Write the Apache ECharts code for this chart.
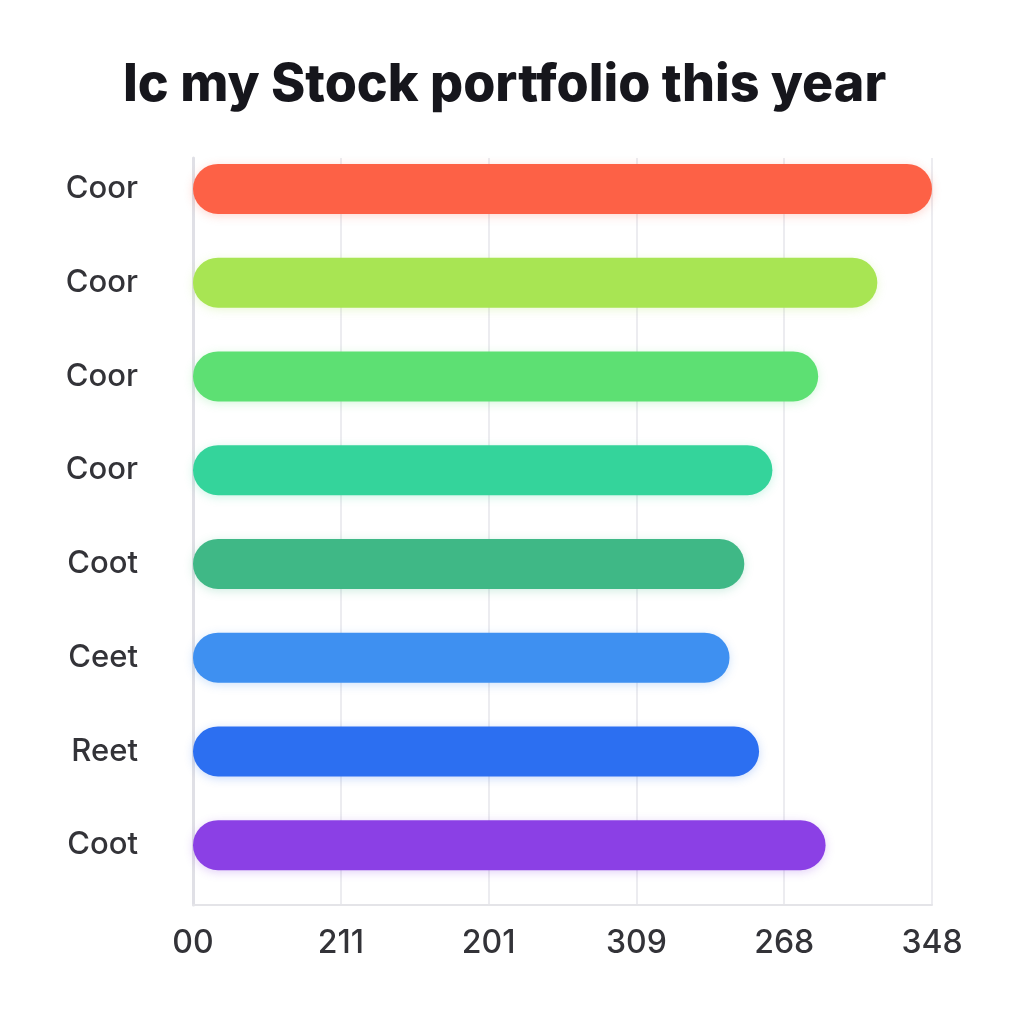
<!DOCTYPE html>
<html>
<head>
<meta charset="utf-8">
<script src="https://cdn.jsdelivr.net/npm/echarts@6/dist/echarts.min.js"></script>
<style>html,body{margin:0;padding:0;background:#fff}#c{width:1024px;height:1024px}</style>
</head>
<body>
<div id="c"></div>
<script>
const titleText = 'Ic my Stock portfolio this year';
const categories = ['Coor', 'Coor', 'Coor', 'Coor', 'Coot', 'Ceet', 'Reet', 'Coot'];
const values = [5.0, 4.63, 4.23, 3.92, 3.73, 3.63, 3.83, 4.28];
const barColors = ['#FD6146', '#A8E553', '#5DE073', '#34D49B', '#3FB886', '#3E90F1', '#2C6FF1', '#8B40E5'];
const tickLabels = ['00', '211', '201', '309', '268', '348'];

const chart = echarts.init(document.getElementById('c'));
chart.setOption({
  backgroundColor: '#ffffff',
  animation: false,
  title: {
    text: titleText,
    left: 118,
    top: 54,
    textStyle: { fontFamily: 'Inter', fontWeight: 800, fontSize: 52, color: '#16161c' }
  },
  grid: [
    { left: 193, right: 92, top: 142, bottom: 132 },
    { left: 193, right: 92, top: 158, bottom: 119 }
  ],
  xAxis: [
    { gridIndex: 0, type: 'value', min: 0, max: 5, interval: 1, show: false },
    {
      gridIndex: 1, type: 'value', min: 0, max: 5, interval: 1,
      axisLine: { show: true, lineStyle: { color: '#e4e4e8', width: 2 } },
      axisTick: { show: false },
      splitLine: { show: true, lineStyle: { color: '#ececf0', width: 2 } },
      axisLabel: {
        margin: 22, fontSize: 32, fontWeight: 500, color: '#333338', fontFamily: 'Inter',
        formatter: (v) => tickLabels[Math.round(v)]
      }
    }
  ],
  yAxis: [
    {
      gridIndex: 0, type: 'category', data: categories, inverse: true,
      axisLine: { show: false }, axisTick: { show: false }, splitLine: { show: false },
      axisLabel: { margin: 55, fontSize: 31, fontWeight: 500, color: '#333338', fontFamily: 'Inter' }
    },
    {
      gridIndex: 1, type: 'value', min: 0, max: 1,
      axisLine: { show: true, lineStyle: { color: '#e0e0e6', width: 3 } },
      axisTick: { show: false }, axisLabel: { show: false }, splitLine: { show: false }
    }
  ],
  series: [{
    type: 'bar',
    xAxisIndex: 0,
    yAxisIndex: 0,
    barWidth: 50,
    data: values.map((v, i) => ({
      value: v,
      itemStyle: {
        color: barColors[i],
        borderRadius: 25,
        shadowBlur: 10,
        shadowColor: barColors[i] + '40',
        shadowOffsetY: 2
      }
    }))
  }]
});
</script>
</body>
</html>
